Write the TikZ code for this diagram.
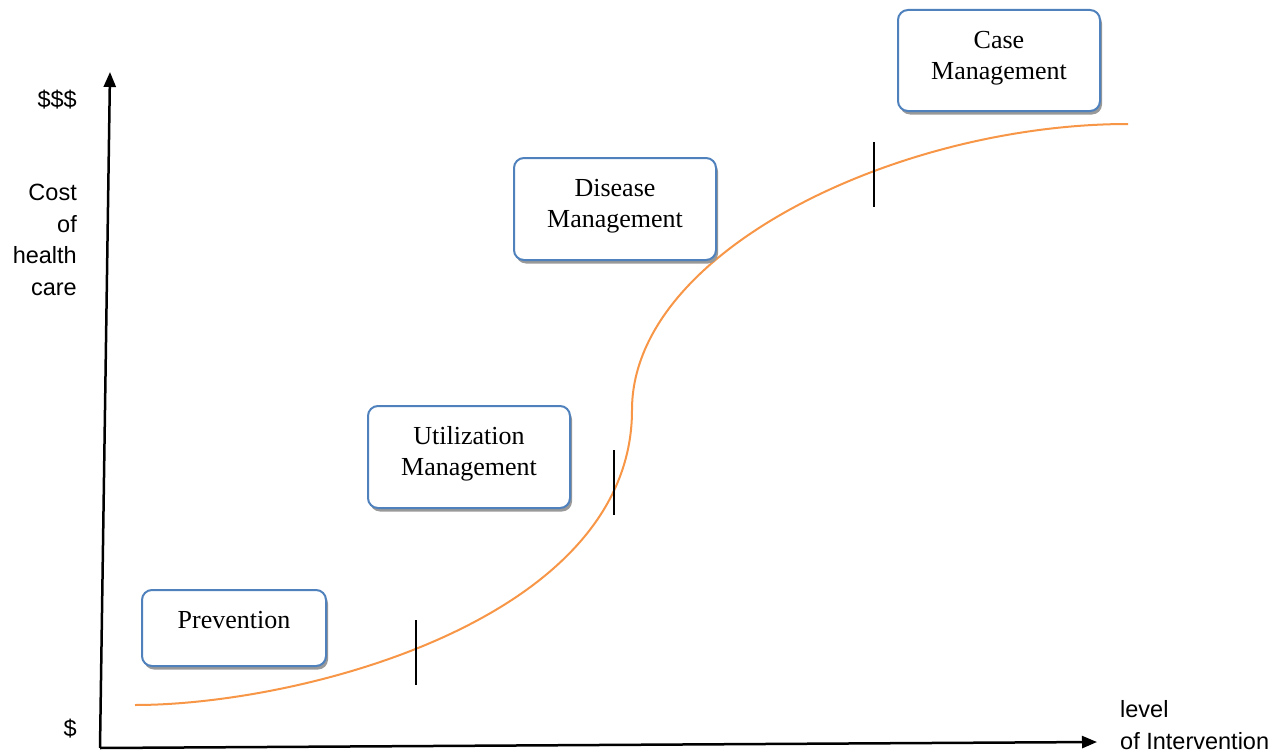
\documentclass[tikz,border=0pt]{standalone}
\usepackage{fontspec}
\setmainfont{Liberation Serif}
\newfontfamily\labelfont{Liberation Sans}
\usetikzlibrary{shadows,arrows.meta}
\definecolor{boxblue}{HTML}{4F81BD}
\definecolor{curveorange}{HTML}{F79646}
\tikzset{
  stagebox/.style={draw=boxblue, line width=2pt, rounded corners=10pt, fill=white,
    drop shadow={shadow xshift=2pt, shadow yshift=-3.5pt, fill=black!40, opacity=1}},
  stagetext/.style={align=center, font=\fontsize{26}{31}\selectfont, inner sep=0pt},
  axislabel/.style={font=\labelfont\fontsize{23.5}{31.5}\selectfont, inner sep=0pt},
  axisline/.style={line width=2.5pt, -{Triangle[length=15pt,width=12pt]}},
  tickmark/.style={line width=2pt, black},
  costcurve/.style={curveorange, line width=2pt}
}
\begin{document}
\begin{tikzpicture}[x=1pt,y=-1pt]
\useasboundingbox (0,0) rectangle (1286,752);
% axes
\coordinate (origin) at (100,748);
\coordinate (ytop) at (110,72);
\coordinate (xend) at (1097,742);
\draw[axisline] (origin) -- (ytop);
\draw[axisline] (origin) -- (xend);
% axis labels
\node[axislabel, anchor=east] (high) at (77,100) {\$\$\$};
\node[axislabel, anchor=east] (low) at (77,729) {\$};
\node[axislabel, anchor=east, align=right] (ylab) at (77,240) {Cost\\of\\health\\care};
\node[axislabel, anchor=west, align=left] (xlab) at (1120,725) {level\\of Intervention};
% curve
\coordinate (c0) at (135,705);
\coordinate (c1) at (632,410);
\coordinate (c2) at (1128,124);
\draw[costcurve] (c0) .. controls (300,705) and (632,620) .. (c1)
  .. controls (632,250) and (900,124) .. (c2);
% ticks
\coordinate (t1a) at (416,620); \coordinate (t1b) at (416,685);
\coordinate (t2a) at (614,450); \coordinate (t2b) at (614,515);
\coordinate (t3a) at (874,142); \coordinate (t3b) at (874,207);
\draw[tickmark] (t1a) -- (t1b);
\draw[tickmark] (t2a) -- (t2b);
\draw[tickmark] (t3a) -- (t3b);
% boxes
\node[stagebox, minimum width=184pt, minimum height=76pt] (prev) at (234,628) {};
\node[stagetext] (prevt) at ([yshift=8pt]prev.center) {Prevention};
\node[stagebox, minimum width=202pt, minimum height=102pt] (util) at (469,457) {};
\node[stagetext] (utilt) at ([yshift=3pt]util.center) {Utilization\\Management};
\node[stagebox, minimum width=202pt, minimum height=102pt] (dis) at (615,209) {};
\node[stagetext] (dist) at ([yshift=3pt]dis.center) {Disease\\Management};
\node[stagebox, minimum width=202pt, minimum height=101pt] (case) at (999,60.5) {};
\node[stagetext] (caset) at ([yshift=2pt]case.center) {Case\\Management};
\end{tikzpicture}
\end{document}
